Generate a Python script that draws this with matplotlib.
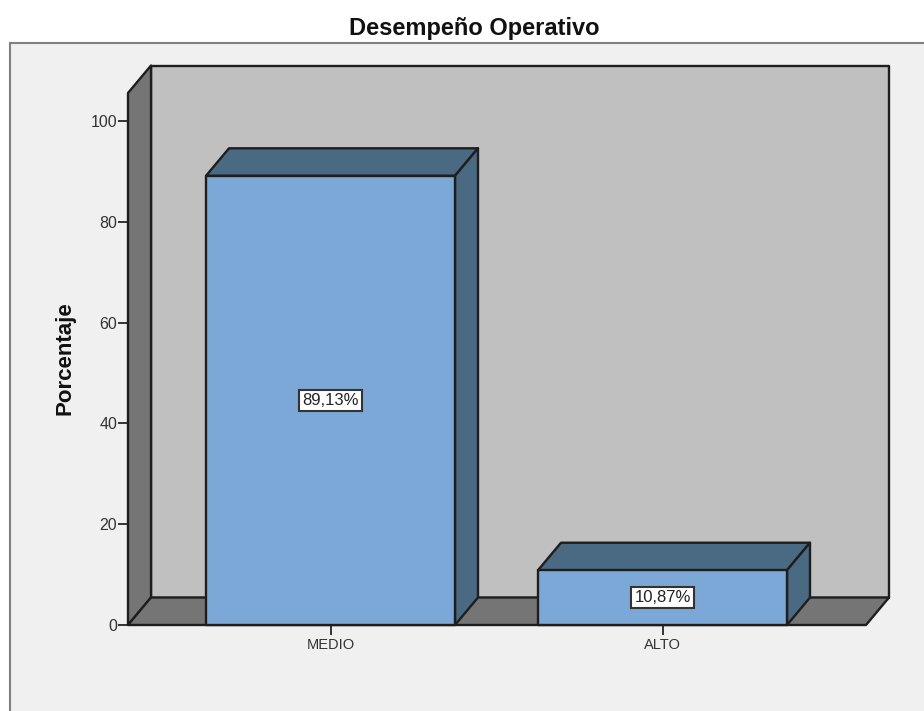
import matplotlib
matplotlib.use("Agg")
import matplotlib.pyplot as plt
from matplotlib.patches import Polygon, Rectangle

categories = ["MEDIO", "ALTO"]
values = [89.13, 10.87]
labels = ["89,13%", "10,87%"]
y_ticks = [0, 20, 40, 60, 80, 100]

W, H = 924, 711
plt.rcParams["font.family"] = ["Liberation Sans", "DejaVu Sans"]
fig = plt.figure(figsize=(W / 100, H / 100), dpi=100, facecolor="white")

# Outer chart panel
fig.add_artist(Rectangle((10 / W, -20 / H), (W + 20 - 10) / W, (H - 43 + 20) / H,
                         transform=fig.transFigure, facecolor="#F0F0F0",
                         edgecolor="#808080", linewidth=1.5, zorder=-5))
fig.text(474.5 / W, 1 - 28 / H, "Desempeño Operativo", ha="center", va="center",
         fontsize=17, fontweight="bold", color="#111111")

# Front plane of the 3D box, in pixels: x 128..866, y 93..625
L, R, T, B = 128, 866, 93, 625
ax = fig.add_axes([L / W, 1 - B / H, (R - L) / W, (B - T) / H])
px_per_unit_y = (625 - 121) / 100
px_per_cat = 332
ax.set_ylim(0, (B - T) / px_per_unit_y)
ax.set_xlim((L - 330.5) / px_per_cat, (R - 330.5) / px_per_cat)
ax.patch.set_visible(False)
for s in ax.spines.values():
    s.set_visible(False)

dx = 23 / px_per_cat
dy = 27.5 / px_per_unit_y
x0, x1 = ax.get_xlim()
y0, y1 = ax.get_ylim()
EDGE = "#1E1E1E"
LW = 1.7


def poly(pts, fc, z):
    ax.add_patch(Polygon(pts, closed=True, facecolor=fc, edgecolor=EDGE,
                         linewidth=LW, joinstyle="round", clip_on=False, zorder=z))


# Back wall, left wall, floor
poly([(x0 + dx, y0 + dy), (x1 + dx, y0 + dy), (x1 + dx, y1 + dy), (x0 + dx, y1 + dy)], "#C0C0C0", 1)
poly([(x0, y0), (x0 + dx, y0 + dy), (x0 + dx, y1 + dy), (x0, y1)], "#757575", 2)
poly([(x0, y0), (x1, y0), (x1 + dx, y0 + dy), (x0 + dx, y0 + dy)], "#757575", 2)

# Bars
bw = 0.75
positions = range(len(categories))
for i, v, lab in zip(positions, values, labels):
    a, b = i - bw / 2, i + bw / 2
    poly([(a, v), (b, v), (b + dx, v + dy), (a + dx, v + dy)], "#4A6983", 3)
    poly([(b, 0), (b + dx, dy), (b + dx, v + dy), (b, v)], "#4A6983", 3)
    poly([(a, 0), (b, 0), (b, v), (a, v)], "#7BA8D6", 4)
    ax.text(i, v / 2, lab, ha="center", va="center", fontsize=12, color="#222222", zorder=6,
            bbox=dict(boxstyle="square,pad=0.17", facecolor="white", edgecolor="#333333", linewidth=1.5))

ax.set_xticks(list(positions), categories)
ax.set_yticks(y_ticks)
ax.tick_params(axis="x", length=7.2, width=1.4, color="#333333", labelsize=10.5,
               labelcolor="#333333", pad=2.5)
ax.tick_params(axis="y", length=7.2, width=1.4, color="#333333", labelsize=11.5,
               labelcolor="#333333", pad=0.5)
fig.text(65 / W, 1 - 358 / H, "Porcentaje", rotation=90, ha="center", va="center",
         fontsize=16, fontweight="bold", color="#111111")

fig.savefig("out.png", dpi=100, facecolor=fig.get_facecolor())
